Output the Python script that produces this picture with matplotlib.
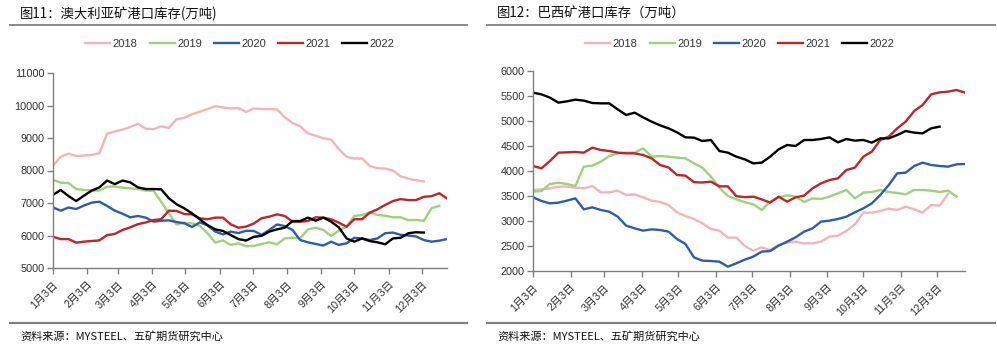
import matplotlib
matplotlib.use("Agg")
import matplotlib.pyplot as plt
import pandas as pd
from matplotlib.lines import Line2D

plt.rcParams['font.family'] = ['Liberation Sans', 'Noto Sans CJK SC', 'DejaVu Sans']

# ---------------- data ----------------
years = ["2018", "2019", "2020", "2021", "2022"]
colors = ["#F4B4B7", "#9CD27C", "#2F5CA9", "#C1222B", "#000000"]

month_ticks = ["1月3日", "2月3日", "3月3日", "4月3日", "5月3日", "6月3日",
               "7月3日", "8月3日", "9月3日", "10月3日", "11月3日", "12月3日"]

aus_2018 = [8150, 8420, 8520, 8450, 8460, 8480, 8530, 9130, 9200, 9260,
            9340, 9440, 9290, 9270, 9360, 9310, 9580, 9620, 9730, 9810,
            9890, 9980, 9940, 9910, 9920, 9800, 9910, 9890, 9890, 9880,
            9640, 9460, 9360, 9140, 9070, 8990, 8950, 8660, 8420, 8370,
            8370, 8140, 8070, 8060, 8000, 7820, 7750, 7700, 7665]
aus_2019 = [7708, 7626, 7615, 7430, 7400, 7390, 7380, 7500, 7510, 7470,
            7450, 7430, 7380, 7380, 7040, 6680, 6340, 6395, 6370, 6300,
            6070, 5780, 5850, 5710, 5760, 5670, 5680, 5740, 5790, 5730,
            5910, 5930, 5910, 6190, 6240, 6170, 5985, 6150, 6270, 6600,
            6630, 6710, 6630, 6610, 6560, 6560, 6470, 6480, 6450, 6840,
            6910]
aus_2020 = [6860, 6765, 6860, 6815, 6920, 7010, 7040, 6910, 6765, 6670,
            6560, 6600, 6550, 6425, 6455, 6465, 6415, 6375, 6260, 6405,
            6310, 6120, 6035, 6120, 6075, 6145, 6140, 6020, 6170, 6340,
            6290, 6170, 5860, 5790, 5740, 5690, 5810, 5710, 5760, 5930,
            5910, 5860, 5910, 6070, 6090, 6020, 6000, 5970, 5860, 5810,
            5840, 5890]
aus_2021 = [5960, 5890, 5890, 5780, 5810, 5830, 5850, 6010, 6050, 6170,
            6250, 6350, 6400, 6475, 6500, 6765, 6755, 6660, 6650, 6530,
            6500, 6550, 6550, 6345, 6240, 6275, 6370, 6530, 6580, 6650,
            6600, 6425, 6425, 6445, 6560, 6550, 6500, 6395, 6270, 6500,
            6500, 6700, 6805, 6940, 7060, 7120, 7090, 7090, 7190, 7210,
            7300, 7140]
aus_2022 = [7250, 7400, 7215, 7060, 7225, 7380, 7480, 7690, 7580, 7690,
            7635, 7480, 7430, 7430, 7420, 7145, 6960, 6835, 6680, 6500,
            6320, 6190, 6140, 6015, 5890, 5845, 5960, 5990, 6120, 6190,
            6240, 6445, 6445, 6550, 6455, 6550, 6425, 6250, 5910, 5810,
            5910, 5830, 5790, 5730, 5910, 5930, 6070, 6100, 6090]

bra_2018 = [3620, 3633, 3653, 3687, 3687, 3667, 3653, 3700, 3573, 3573,
            3607, 3520, 3533, 3473, 3407, 3380, 3320, 3173, 3100, 3040,
            2953, 2840, 2807, 2667, 2667, 2500, 2407, 2473, 2420, 2520,
            2567, 2587, 2553, 2553, 2587, 2687, 2707, 2800, 2933, 3167,
            3167, 3200, 3247, 3220, 3287, 3233, 3167, 3320, 3307, 3540]
bra_2019 = [3587, 3600, 3740, 3767, 3740, 3700, 4087, 4107, 4187, 4300,
            4353, 4367, 4367, 4453, 4287, 4300, 4287, 4267, 4253, 4153,
            4067, 3887, 3663, 3503, 3433, 3377, 3333, 3220, 3387, 3473,
            3513, 3487, 3380, 3453, 3440, 3487, 3553, 3620, 3453, 3567,
            3580, 3620, 3580, 3560, 3533, 3620, 3620, 3607, 3580, 3607,
            3487]
bra_2020 = [3473, 3400, 3353, 3367, 3407, 3453, 3233, 3273, 3220, 3187,
            3087, 2907, 2853, 2807, 2833, 2820, 2787, 2640, 2540, 2273,
            2207, 2200, 2187, 2087, 2153, 2227, 2287, 2387, 2400, 2507,
            2587, 2673, 2787, 2853, 2987, 3007, 3040, 3087, 3173, 3253,
            3353, 3520, 3720, 3953, 3967, 4100, 4167, 4120, 4100, 4087,
            4133, 4140]
bra_2021 = [4100, 4053, 4200, 4367, 4373, 4380, 4367, 4467, 4420, 4400,
            4367, 4353, 4353, 4320, 4253, 4120, 4070, 3920, 3907, 3777,
            3770, 3787, 3693, 3693, 3497, 3477, 3487, 3433, 3367, 3487,
            3387, 3473, 3507, 3653, 3753, 3820, 3853, 4020, 4067, 4287,
            4387, 4620, 4687, 4853, 4987, 5200, 5320, 5533, 5573, 5587,
            5620, 5567]
bra_2022 = [5567, 5533, 5467, 5367, 5393, 5427, 5407, 5360, 5353, 5353,
            5233, 5120, 5167, 5073, 4987, 4913, 4853, 4773, 4673, 4667,
            4600, 4620, 4400, 4367, 4287, 4233, 4153, 4167, 4287, 4433,
            4520, 4500, 4620, 4620, 4640, 4673, 4573, 4640, 4607, 4620,
            4567, 4653, 4653, 4720, 4800, 4767, 4753, 4853, 4887]

aus_yticks = [5000, 6000, 7000, 8000, 9000, 10000, 11000]
bra_yticks = [2000, 2500, 3000, 3500, 4000, 4500, 5000, 5500, 6000]

# ---------------- figure ----------------
W, H = 997, 351
fig = plt.figure(figsize=(W / 100, H / 100), dpi=100)

base = pd.Timestamp("2021-01-03")
tick_dates = [pd.Timestamp(2021, m, 3) for m in range(1, 13)]
x_end = base + pd.Timedelta(days=357)

def fx(px):
    return px / W

def fy(py):
    return 1 - py / H

tick_fs = 7.8
grey = "#7F7F7F"

def draw_panel(rect, series, yticks, title, title_x, line_x0, line_x1, legend_cx):
    ax = fig.add_axes(rect)
    handles = []
    for vals, yr, c in zip(series, years, colors):
        dates = pd.date_range(base, periods=len(vals), freq="7D")
        h, = ax.plot(dates, vals, color=c, lw=1.7, label=yr, solid_joinstyle="round")
        handles.append(h)
    ax.set_xlim(base, x_end)
    ax.set_ylim(yticks[0], yticks[-1])
    ax.set_yticks(yticks)
    ax.set_yticklabels([str(v) for v in yticks], fontsize=tick_fs, color="#333333")
    ax.set_xticks(tick_dates)
    ax.set_xticklabels(month_ticks, rotation=45, ha="right", rotation_mode="anchor",
                       fontsize=tick_fs, color="#333333")
    for s in ["top", "right"]:
        ax.spines[s].set_visible(False)
    for s in ["left", "bottom"]:
        ax.spines[s].set_color(grey)
        ax.spines[s].set_linewidth(1.0)
    ax.tick_params(axis="both", direction="out", length=4, width=1.0, color=grey, pad=2)
    ax.tick_params(axis="x", pad=4)
    ax.set_facecolor("none")

    fig.legend(handles=handles, labels=years, loc="center",
               bbox_to_anchor=(fx(legend_cx), fy(44)), ncol=5, frameon=False,
               fontsize=8, handlelength=2.25, handletextpad=0.2,
               columnspacing=1.1, labelcolor="#333333")

    fig.text(fx(title_x), fy(14), title, fontsize=9.6, ha="left", va="center",
             family=["Noto Sans CJK SC", "DejaVu Sans"], color="#111111")
    fig.add_artist(Line2D([fx(line_x0), fx(line_x1)], [fy(25), fy(25)],
                          color=grey, lw=1.3, transform=fig.transFigure))
    fig.add_artist(Line2D([fx(line_x0), fx(line_x1)], [fy(323), fy(323)],
                          color=grey, lw=1.6, transform=fig.transFigure))
    fig.text(fx(title_x), fy(336), "资料来源：MYSTEEL、五矿期货研究中心", fontsize=8,
             ha="left", va="center", family=["Noto Sans CJK SC", "DejaVu Sans"],
             color="#111111")
    return ax

draw_panel([fx(53), fy(268), fx(447) - fx(53), fy(73) - fy(268)],
           [aus_2018, aus_2019, aus_2020, aus_2021, aus_2022], aus_yticks,
           "图11：澳大利亚矿港口库存(万吨)", 20, 10, 467, 240)

draw_panel([fx(533), fy(271), fx(965) - fx(533), fy(71) - fy(271)],
           [bra_2018, bra_2019, bra_2020, bra_2021, bra_2022], bra_yticks,
           "图12：巴西矿港口库存（万吨）", 497, 487, 995, 740)

fig.savefig("out.png", dpi=100)
